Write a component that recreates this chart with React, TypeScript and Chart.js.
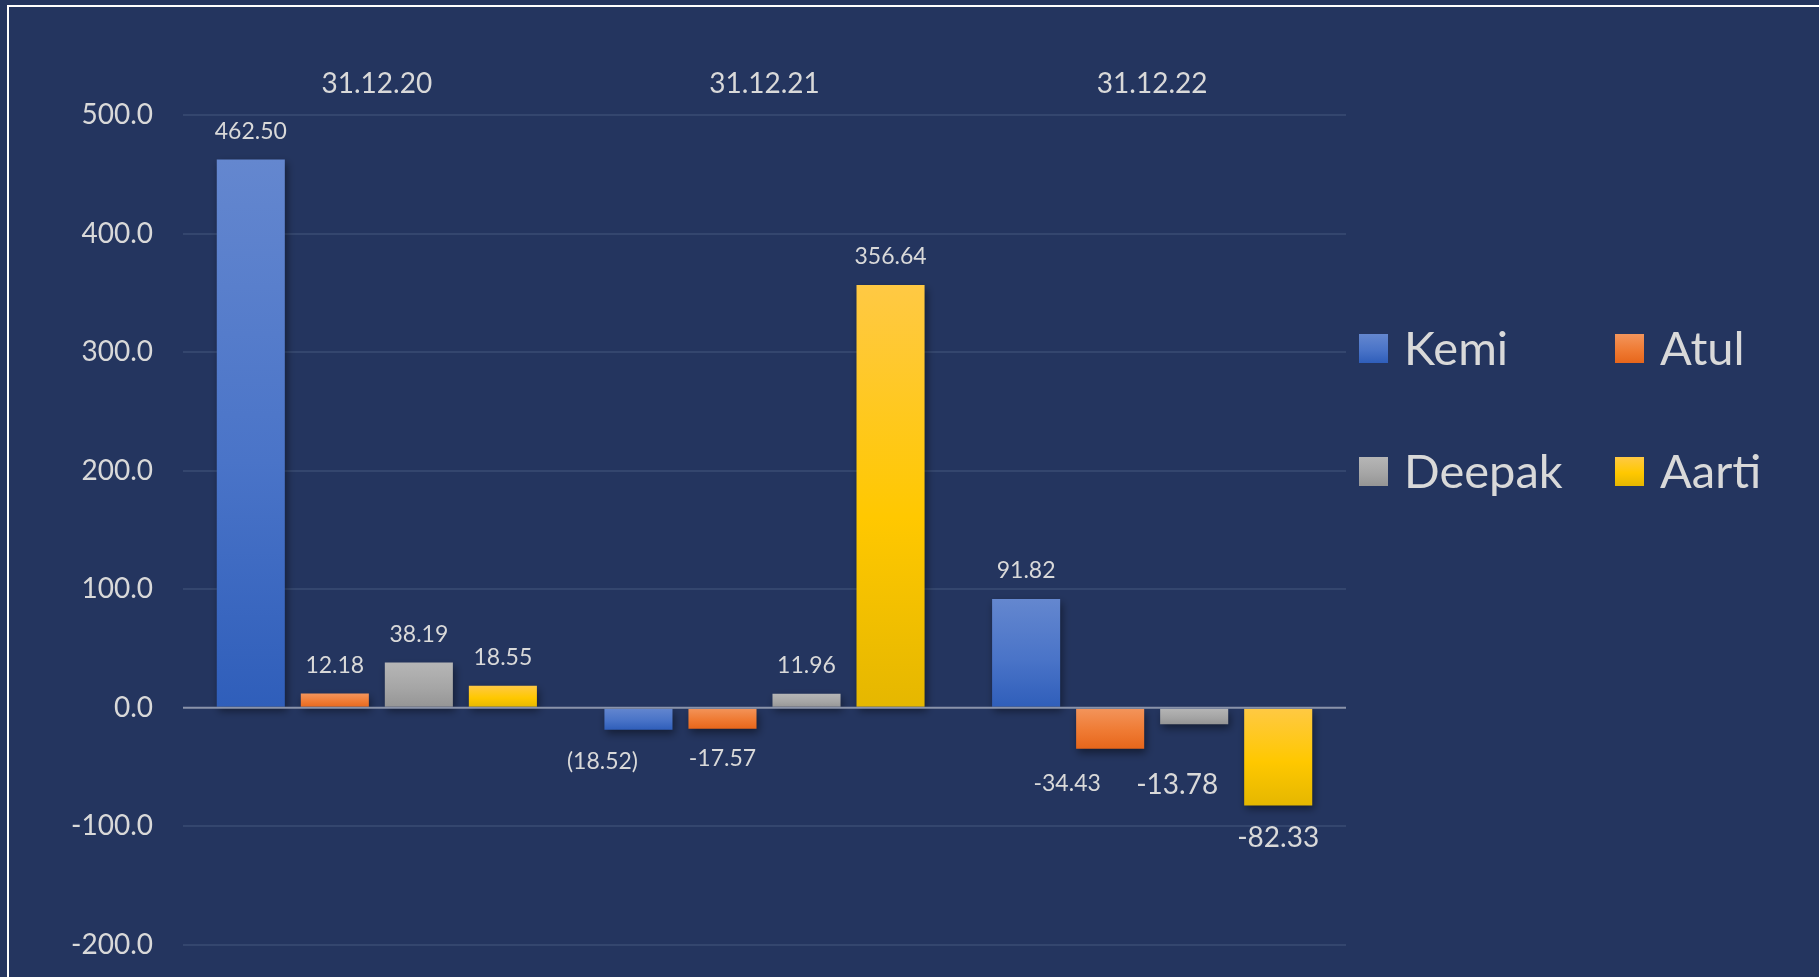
import React, { useEffect, useRef } from "react";
import { Chart, registerables } from "chart.js";
Chart.register(...registerables);

// ---------- data ----------
const categories = ["31.12.20", "31.12.21", "31.12.22"];
const seriesNames = ["Kemi", "Atul", "Deepak", "Aarti"];
const kemiValues = [462.5, -18.52, 91.82];
const atulValues = [12.18, -17.57, -34.43];
const deepakValues = [38.19, 11.96, -13.78];
const aartiValues = [18.55, 356.64, -82.33];
const kemiLabels = ["462.50", "(18.52)", "91.82"];
const atulLabels = ["12.18", "-17.57", "-34.43"];
const deepakLabels = ["38.19", "11.96", "-13.78"];
const aartiLabels = ["18.55", "356.64", "-82.33"];
const yMin = -200;
const yMax = 500;
const yStep = 100;

// ---------- styles ----------
const BG = "#24355f";
const TEXT = "#d9d9d9";
const GRID = "#34466e";
const ZERO = "#8a93aa";
const FONT = "Lato, 'Open Sans', sans-serif";
const gradients: string[][] = [
  ["#6487cf", "#4a74c8", "#2f5eba"],
  ["#f3955c", "#ef7b34", "#e7661b"],
  ["#b6b6b6", "#a6a6a6", "#959595"],
  ["#ffc944", "#ffc800", "#e5b700"],
];
// label offsets relative to bar end [dx, dy], and font sizes
const labelOffsets: number[][][] = [
  [[0, -28], [-36, 32], [0, -28]],
  [[0, -28], [0, 30], [-43, 35]],
  [[0, -28], [0, -28], [-17, 61]],
  [[0, -28], [0, -28], [0, 32]],
];
const labelSizes: number[][] = [
  [23, 23, 23],
  [23, 23, 23],
  [23, 23, 28],
  [23, 23, 28],
];

const allValues = [kemiValues, atulValues, deepakValues, aartiValues];
const allLabels = [kemiLabels, atulLabels, deepakLabels, aartiLabels];

function makeGrad(ctx: CanvasRenderingContext2D, top: number, bot: number, stops: string[]) {
  const g = ctx.createLinearGradient(0, top, 0, bot <= top ? top + 1 : bot);
  g.addColorStop(0, stops[0]);
  g.addColorStop(0.55, stops[1]);
  g.addColorStop(1, stops[2]);
  return g;
}

const decorPlugin = {
  id: "decor",
  beforeDraw(chart: any) {
    const ctx = chart.ctx as CanvasRenderingContext2D;
    ctx.save();
    ctx.fillStyle = BG;
    ctx.fillRect(0, 0, chart.width, chart.height);
    ctx.fillStyle = "#ffffff";
    ctx.fillRect(7, 5, 2, chart.height);
    ctx.fillRect(7, 5, chart.width, 2);
    ctx.restore();
  },
  beforeDatasetsDraw(chart: any) {
    const ctx = chart.ctx as CanvasRenderingContext2D;
    ctx.save();
    ctx.shadowColor = "rgba(0,0,0,0.45)";
    ctx.shadowBlur = 8;
    ctx.shadowOffsetX = 2;
    ctx.shadowOffsetY = 4;
  },
  afterDatasetsDraw(chart: any) {
    const ctx = chart.ctx as CanvasRenderingContext2D;
    ctx.restore();
    const { chartArea, scales } = chart;
    // zero axis line
    const y0 = scales.y.getPixelForValue(0);
    ctx.save();
    ctx.strokeStyle = ZERO;
    ctx.lineWidth = 2;
    ctx.beginPath();
    ctx.moveTo(chartArea.left, y0);
    ctx.lineTo(chartArea.right, y0);
    ctx.stroke();
    // data labels
    ctx.fillStyle = TEXT;
    ctx.textAlign = "center";
    ctx.textBaseline = "middle";
    chart.data.datasets.forEach((ds: any, di: number) => {
      const meta = chart.getDatasetMeta(di);
      meta.data.forEach((el: any, i: number) => {
        const [dx, dy] = labelOffsets[di][i];
        ctx.font = `${labelSizes[di][i]}px ${FONT}`;
        ctx.fillText(allLabels[di][i], el.x + dx, el.y + dy);
      });
    });
    // legend (2 x 2)
    const cols = [1359, 1615];
    const rows = [334, 457];
    chart.data.datasets.forEach((ds: any, di: number) => {
      const x = cols[di % 2];
      const y = rows[Math.floor(di / 2)];
      ctx.fillStyle = makeGrad(ctx, y, y + 29, gradients[di]);
      ctx.fillRect(x, y, 29, 29);
      ctx.fillStyle = TEXT;
      ctx.font = `47px ${FONT}`;
      ctx.textAlign = "left";
      ctx.textBaseline = "middle";
      ctx.fillText(ds.label, x + 45, y + 16);
    });
    ctx.restore();
  },
};

export default function App() {
  const ref = useRef<HTMLCanvasElement>(null);
  useEffect(() => {
    const datasets = seriesNames.map((name, di) => ({
      label: name,
      data: allValues[di],
      backgroundColor: (c: any) => {
        const chart = c.chart;
        if (!chart.chartArea || c.type !== "data") return gradients[di][1];
        const ys = chart.scales.y;
        const a = ys.getPixelForValue(0);
        const b = ys.getPixelForValue(c.raw);
        return makeGrad(chart.ctx, Math.min(a, b), Math.max(a, b), gradients[di]);
      },
      borderWidth: 0,
      categoryPercentage: 0.867,
      barPercentage: 0.81,
    }));
    const chart = new Chart(ref.current as HTMLCanvasElement, {
      type: "bar",
      data: { labels: categories, datasets },
      plugins: [decorPlugin],
      options: {
        animation: false,
        responsive: false,
        devicePixelRatio: 1,
        layout: { padding: { top: 0, bottom: 32, left: 0, right: 473 } },
        plugins: { legend: { display: false }, tooltip: { enabled: false } },
        scales: {
          x: {
            position: "top",
            offset: true,
            grid: { display: false, drawTicks: false },
            border: { display: false },
            ticks: { color: TEXT, font: { family: FONT, size: 28 }, padding: 14 },
            afterFit: (s: any) => {
              s.height = 115;
              s.paddingLeft = 0;
              s.paddingRight = 0;
            },
          },
          y: {
            min: yMin,
            max: yMax,
            ticks: {
              stepSize: yStep,
              color: TEXT,
              font: { family: FONT, size: 28 },
              padding: 30,
              callback: (v: any) => Number(v).toFixed(1),
            },
            grid: {
              color: (c: any) => (c.tick && c.tick.value === 0 ? "rgba(0,0,0,0)" : GRID),
              lineWidth: 2,
              drawTicks: false,
            },
            border: { display: false },
            afterFit: (s: any) => {
              s.width = 183;
              s.paddingTop = 0;
              s.paddingBottom = 0;
            },
          },
        },
      } as any,
    });
    return () => chart.destroy();
  }, []);
  return (
    <div style={{ position: "fixed", left: 0, top: 0, width: 1819, height: 977, background: BG }}>
      <canvas ref={ref} width={1819} height={977} style={{ display: "block", width: 1819, height: 977 }} />
    </div>
  );
}
